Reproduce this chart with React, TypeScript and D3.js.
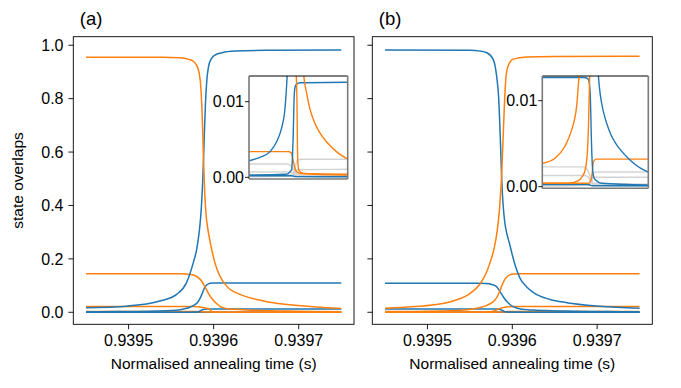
import React from 'react';
import * as d3 from 'd3';

// time = T0 + offset * 1e-6 (offsets, in microseconds of normalised time)
const T0 = 0.9395;
const xTickValues = [0.9395, 0.9396, 0.9397];
const yTickValues = [0, 0.2, 0.4, 0.6, 0.8, 1.0];
const insetTickValues = [0, 0.01];
const panelLabels = ['(a)', '(b)'];
const xLabelText = 'Normalised annealing time (s)';
const yLabelText = 'state overlaps';

type P = [number, number];

// ---------- panel (a) ----------
const aOrangeMain: P[] = [[-50,0.955],[40,0.955],[60,0.953],[70,0.948],[76,0.94],[80,0.925],[83,0.895],[85,0.84],[86.5,0.74],[88,0.58],[89.5,0.45],[91,0.37],[93,0.315],[95.5,0.27],[97.6,0.237],[101.5,0.185],[107.4,0.135],[115.3,0.098],[131,0.067],[150.6,0.048],[170,0.036],[190,0.028],[220,0.02],[250,0.0145]];
const aBlueMain: P[] = [[-50,0.017],[-2,0.023],[37,0.042],[56.5,0.067],[68,0.11],[76,0.185],[80,0.235],[83,0.3],[85.5,0.39],[87.5,0.52],[89,0.66],[90.5,0.79],[92,0.87],[94,0.92],[97,0.948],[101,0.962],[110,0.972],[125,0.978],[160,0.981],[250,0.982]];
const aOrangeSecond: P[] = [[-50,0.144],[60,0.144],[68,0.143],[76,0.14],[82,0.13],[86,0.116],[90,0.094],[94,0.07],[99,0.047],[104,0.031],[108,0.0215],[112,0.0165],[116.7,0.0134],[124.8,0.0112],[134.8,0.0091],[145,0.0077],[155,0.0067],[165,0.0059],[185.5,0.0047],[215.8,0.0034],[250,0.0024]];
const aBlueSecond: P[] = [[-50,0.0022],[-17,0.00265],[14,0.0034],[34,0.0047],[49,0.0065],[59,0.0089],[66,0.0134],[72,0.019],[77,0.027],[81,0.037],[84,0.052],[86.5,0.07],[89,0.09],[92,0.103],[96,0.109],[100,0.11],[250,0.11]];
const aBlueThird: P[] = [[-50,0.0003],[60,0.0004],[69,0.0005],[76,0.0008],[79.3,0.001],[82,0.0025],[84.2,0.0054],[86,0.0085],[87.3,0.0107],[89.5,0.0118],[92.4,0.0122],[104.5,0.0125],[250,0.01257]];
const aOrangeThird: P[] = [[-50,0.0034],[70,0.0034],[74,0.00335],[79,0.0032],[84,0.0023],[89.4,0.0012],[96,0.0007],[110,0.0005],[250,0.0004]];
const aOrangeFourth: P[] = [[-50,0.022],[70,0.022],[76,0.0218],[82,0.0205],[87,0.018],[91,0.0155],[94,0.013],[96,0.0095],[97,0.005],[98.5,0.002],[102,0.0009],[115,0.0005],[250,0.0003]];
const aBlueFourth: P[] = [[-50,0.0002],[80,0.0002],[92,0.0001],[250,0.00008]];
const aGray1: P[] = [[-50,0.00176],[65,0.00176],[75,0.0016],[82,0.0012],[88,0.0006],[95,0.0003],[250,0.0002]];
const aGray2: P[] = [[-50,0.0007],[70,0.0007],[85,0.0005],[95,0.0001],[250,0.0001]];
const aGray3: P[] = [[-50,0.0002],[80,0.0003],[88,0.0009],[93,0.0018],[98,0.0023],[110,0.0024],[250,0.0024]];
const aGray4: P[] = [[-50,0.0001],[82,0.0002],[90,0.0007],[96,0.001],[250,0.00106]];
const aGray5: P[] = [[-50,0.0001],[80,0.0002],[86,0.0008],[89,0.0015],[92,0.0006],[100,0.0002],[250,0.0001]];

// ---------- panel (b) ----------
const bBlueMain: P[] = [[-50,0.982],[50,0.981],[62,0.978],[70,0.972],[77.5,0.947],[81.5,0.885],[84,0.8],[86,0.64],[87.5,0.5],[89,0.41],[91,0.34],[93.5,0.295],[96.5,0.26],[99.2,0.225],[103,0.18],[109,0.128],[117,0.095],[125,0.074],[144.5,0.048],[164,0.036],[203,0.023],[250,0.0155]];
const bOrangeMain: P[] = [[-50,0.0155],[10.6,0.029],[30,0.042],[50,0.07],[61.7,0.105],[69,0.145],[73.6,0.185],[78.3,0.235],[82,0.3],[85,0.39],[87.5,0.52],[89.5,0.68],[91,0.8],[93.3,0.9],[97,0.935],[101,0.948],[117,0.956],[150,0.958],[250,0.959]];
const bBlueSecond: P[] = [[-50,0.109],[60,0.109],[69.6,0.108],[76,0.104],[81.5,0.096],[85,0.08],[89.3,0.058],[93,0.042],[97.2,0.029],[101,0.021],[105,0.0163],[108.5,0.0131],[112,0.0114],[118,0.0097],[127.5,0.008],[137,0.0068],[146,0.0059],[160,0.0049],[175,0.0041],[193,0.0033],[212,0.0026],[230,0.0021],[250,0.0017]];
const bOrangeSecond: P[] = [[-50,0.0027],[-14,0.0033],[14,0.0047],[33,0.0066],[47,0.0093],[54,0.0129],[62,0.018],[70,0.026],[76,0.036],[80,0.048],[83,0.063],[85,0.078],[88,0.102],[91,0.122],[94,0.134],[97,0.14],[102,0.143],[110,0.144],[250,0.144]];
const bBlueThird: P[] = [[-50,0.0127],[70,0.0127],[77,0.0126],[81.3,0.0124],[84,0.0117],[85.9,0.0105],[87.3,0.0085],[88.7,0.0058],[90.5,0.0035],[92.6,0.0019],[96,0.0011],[100,0.0008],[118,0.0004],[250,0.0002]];
const bOrangeThird: P[] = [[-50,0.0004],[80,0.0004],[86,0.0006],[89.8,0.0011],[92,0.0019],[94.3,0.0028],[98,0.0031],[104,0.0032],[250,0.0032]];
const bOrangeFourth: P[] = [[-50,0.0004],[24,0.0004],[52,0.0007],[65,0.0013],[71,0.0019],[76,0.0032],[78.5,0.0047],[80.5,0.0068],[82.2,0.0097],[84.1,0.0129],[87,0.016],[91,0.019],[96,0.021],[102,0.022],[250,0.022]];
const bBlueFourth: P[] = [[-50,0.00025],[80,0.00025],[92,0.0001],[250,0.0001]];
const bGray1: P[] = [[-50,0.0023],[65,0.0023],[75,0.0021],[82,0.0016],[87,0.0009],[93,0.0004],[250,0.0003]];
const bGray2: P[] = [[-50,0.0013],[70,0.0013],[82,0.001],[90,0.0004],[98,0.0002],[250,0.0002]];
const bGray3: P[] = [[-50,0.0002],[82,0.0003],[88,0.0008],[93,0.0014],[100,0.0017],[250,0.0017]];
const bGray4: P[] = [[-50,0.0001],[84,0.0002],[91,0.0008],[97,0.0011],[250,0.0011]];
const bGray5: P[] = [[-50,0.0001],[80,0.0002],[86,0.0007],[89,0.0013],[92,0.0005],[100,0.0002],[250,0.0001]];

const BLUE = '#1f77b4';
const ORANGE = '#ff7f0e';
const GRAY = '#d3d3d3';
const FONT = '"Liberation Sans", Arial, Helvetica, sans-serif';

type Curve = { pts: P[]; color: string };

const panelA: Curve[] = [
  { pts: aGray1, color: GRAY }, { pts: aGray2, color: GRAY }, { pts: aGray3, color: GRAY },
  { pts: aGray4, color: GRAY }, { pts: aGray5, color: GRAY },
  { pts: aBlueFourth, color: BLUE }, { pts: aOrangeThird, color: ORANGE },
  { pts: aBlueThird, color: BLUE }, { pts: aOrangeFourth, color: ORANGE },
  { pts: aBlueSecond, color: BLUE }, { pts: aOrangeSecond, color: ORANGE },
  { pts: aBlueMain, color: BLUE }, { pts: aOrangeMain, color: ORANGE },
];
const panelB: Curve[] = [
  { pts: bGray1, color: GRAY }, { pts: bGray2, color: GRAY }, { pts: bGray3, color: GRAY },
  { pts: bGray4, color: GRAY }, { pts: bGray5, color: GRAY },
  { pts: bBlueFourth, color: BLUE }, { pts: bOrangeThird, color: ORANGE },
  { pts: bBlueThird, color: BLUE }, { pts: bOrangeFourth, color: ORANGE },
  { pts: bBlueSecond, color: BLUE }, { pts: bOrangeSecond, color: ORANGE },
  { pts: bBlueMain, color: BLUE }, { pts: bOrangeMain, color: ORANGE },
];

type Layout = {
  id: string; label: string; curves: Curve[]; showYLabels: boolean;
  left: number; right: number; top: number; bottom: number;
  inset: { left: number; right: number; top: number; bottom: number; yMin: number; yMax: number };
};

const layouts: Layout[] = [
  { id: 'a', label: panelLabels[0], curves: panelA, showYLabels: true,
    left: 73.3, right: 354, top: 36.7, bottom: 324.3,
    inset: { left: 249, right: 347.7, top: 76, bottom: 179, yMin: -0.00022, yMax: 0.0134 } },
  { id: 'b', label: panelLabels[1], curves: panelB, showYLabels: false,
    left: 372.3, right: 652.3, top: 36.7, bottom: 324.3,
    inset: { left: 542.3, right: 648.3, top: 76, bottom: 188.3, yMin: -0.00019, yMax: 0.01287 } },
];

const toTime = (u: number) => T0 + u * 1e-6;

function Panel({ L }: { L: Layout }) {
  const x = d3.scaleLinear().domain([toTime(-65), toTime(265)]).range([L.left, L.right]);
  const y = d3.scaleLinear().domain([-0.045, 1.032]).range([L.bottom, L.top]);
  const line = d3.line<P>().x(d => x(toTime(d[0]))).y(d => y(d[1])).curve(d3.curveMonotoneX);

  const I = L.inset;
  const xi = d3.scaleLinear().domain([toTime(-50), toTime(250)]).range([I.left, I.right]);
  const yi = d3.scaleLinear().domain([I.yMin, I.yMax]).range([I.bottom, I.top]);
  const lineI = d3.line<P>().x(d => xi(toTime(d[0]))).y(d => yi(d[1])).curve(d3.curveMonotoneX);

  const cx = (L.left + L.right) / 2;
  const cy = (L.top + L.bottom) / 2;
  return (
    <g>
      <defs>
        <clipPath id={`clip-main-${L.id}`}>
          <rect x={L.left} y={L.top} width={L.right - L.left} height={L.bottom - L.top} />
        </clipPath>
        <clipPath id={`clip-inset-${L.id}`}>
          <rect x={I.left} y={I.top} width={I.right - I.left} height={I.bottom - I.top} />
        </clipPath>
      </defs>
      <g clipPath={`url(#clip-main-${L.id})`}>
        {L.curves.map((c, i) => (
          <path key={i} d={line(c.pts) || ''} fill="none" stroke={c.color} strokeWidth={1.5} />
        ))}
      </g>
      <rect x={L.left} y={L.top} width={L.right - L.left} height={L.bottom - L.top}
        fill="none" stroke="#000" strokeWidth={0.9} />
      {xTickValues.map(t => (
        <g key={t}>
          <line x1={x(t)} x2={x(t)} y1={L.bottom} y2={L.bottom + 4.9} stroke="#000" strokeWidth={0.9} />
          <text x={x(t)} y={L.bottom + 21.8} textAnchor="middle" fontSize={16} fontFamily={FONT} fill="#000">
            {d3.format('.4f')(t)}
          </text>
        </g>
      ))}
      {yTickValues.map(t => (
        <g key={t}>
          <line x1={L.left - 4.9} x2={L.left} y1={y(t)} y2={y(t)} stroke="#000" strokeWidth={0.9} />
          {L.showYLabels && (
            <text x={L.left - 9.8} y={y(t)} dy="0.36em" textAnchor="end" fontSize={16} fontFamily={FONT} fill="#000">
              {d3.format('.1f')(t)}
            </text>
          )}
        </g>
      ))}
      <text x={cx} y={368.5} textAnchor="middle" fontSize={15.5} fontFamily={FONT} fill="#000">{xLabelText}</text>
      {L.showYLabels && (
        <text transform={`translate(23,${cy}) rotate(-90)`} textAnchor="middle" fontSize={15.5} fontFamily={FONT} fill="#000">
          {yLabelText}
        </text>
      )}
      <text x={L.left + 6.5} y={25} fontSize={18.5} fontFamily={FONT} fill="#000">{L.label}</text>

      {/* inset */}
      <rect x={I.left} y={I.top} width={I.right - I.left} height={I.bottom - I.top} fill="#fff" />
      <g clipPath={`url(#clip-inset-${L.id})`}>
        {L.curves.map((c, i) => (
          <path key={i} d={lineI(c.pts) || ''} fill="none" stroke={c.color} strokeWidth={1.4} />
        ))}
      </g>
      <line x1={I.left} x2={I.right} y1={I.top} y2={I.top} stroke="#000" strokeWidth={1} />
      <line x1={I.left} x2={I.left} y1={I.top} y2={I.bottom} stroke="#7a7a7a" strokeWidth={1.6} />
      <line x1={I.right} x2={I.right} y1={I.top} y2={I.bottom} stroke="#7a7a7a" strokeWidth={1.6} />
      <line x1={I.left} x2={I.right} y1={I.bottom} y2={I.bottom} stroke="#7a7a7a" strokeWidth={1.6} />
      {insetTickValues.map(t => (
        <g key={t}>
          <line x1={I.left - 4} x2={I.left} y1={yi(t)} y2={yi(t)} stroke="#000" strokeWidth={0.9} />
          <text x={I.left - 5} y={yi(t)} dy="0.36em" textAnchor="end" fontSize={16} fontFamily={FONT} fill="#000">
            {d3.format('.2f')(t)}
          </text>
        </g>
      ))}
    </g>
  );
}

export default function App() {
  return (
    <svg width={681} height={388} viewBox="0 0 681 388"
      style={{ position: 'absolute', left: 0, top: 0, background: '#fff' }}>
      <rect x={0} y={0} width={681} height={388} fill="#fff" />
      {layouts.map(L => <Panel key={L.id} L={L} />)}
    </svg>
  );
}
